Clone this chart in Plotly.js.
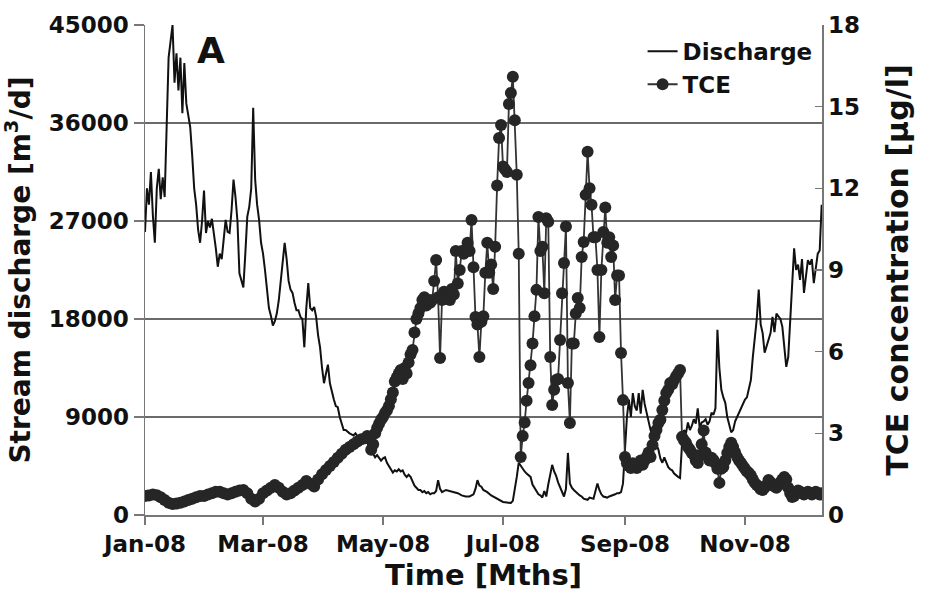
<!DOCTYPE html>
<html>
<head>
<meta charset="utf-8">
<script src="https://cdn.plot.ly/plotly-3.0.1.min.js"></script>
<style>html,body{margin:0;padding:0;background:#fff;}#chart{width:930px;height:603px;}</style>
</head>
<body>
<div id="chart"></div>
<script>
// Day offsets from 2008-01-01 and stream discharge [m3/d]
const disDay = [0,1,2,3,4,5,6,7,8,9,10,11,12,13,14,15,16,17,18,19,20,21,22,23,24,25,26,27,28,29,30,31,32,33,34,35,36,37,38,39,40,41,42,43,44,45,46,47,48,49,50,51,52,53,54,55,56,57,58,59,60,61,62,63,64,65,66,67,68,69,70,71,72,73,74,75,76,77,78,79,80,81,82,83,84,85,86,87,88,89,90,91,92,93,94,95,96,97,98,99,100,101,102,103,104,105,106,107,108,109,110,111,112,113,114,115,116,117,118,119,120,121,122,123,124,125,126,127,128,129,130,131,132,133,134,135,136,137,138,139,140,141,142,143,144,145,146,147,148,149,150,151,153,155,157,159,161,163,165,167,168,169,170,171,172,174,176,177,179,180,182,184,186,187,188,189,190,191,192,193,194,195,196,197,198,199,200,201,202,203,204,205,206,207,208,209,210,211,212,213,214,215,216,217,218,219,220,221,222,223,224,225,226,227,228,229,230,231,232,233,234,235,236,237,238,239,240,241,242,243,244,245,246,247,248,249,250,251,252,253,254,255,256,257,258,259,260,261,262,263,264,265,266,267,268,269,270,271,272,273,274,275,276,277,278,279,280,281,282,283,284,285,286,287,288,289,290,291,292,293,294,295,296,297,298,299,300,301,302,303,304,305,306,307,308,309,310,311,312,313,314,315,316,317,318,319,320,321,322,323,324,325,326,327,328,329,330,331,332,333,334,335,336,337,338,339,340,341,342,343,344];
const disVal = [26000,30000,28500,31500,27500,25000,30000,31800,29000,31000,29200,36000,42000,43500,45000,39700,42400,39000,42000,36900,41500,37800,36500,35600,33000,30000,28500,26200,25000,27000,29800,25900,27000,26400,27200,25900,24500,22800,24000,23500,25500,27100,26000,25900,28000,30800,29200,27000,22200,21500,20900,24000,27400,28300,30000,37400,30800,28500,27100,25000,24000,22500,20500,19000,18300,17400,17800,18500,19700,21500,23700,25000,23500,21500,20700,20400,19500,18800,18800,18200,18000,15400,19000,21300,19000,18800,19100,18200,16500,15400,13500,12100,13000,13800,12100,11200,10600,10000,9900,9000,8300,7800,7800,7600,7500,7400,7300,7500,7200,7000,6900,7100,6900,6700,6200,6000,5600,5300,5500,5300,5000,5200,5300,4800,4500,4300,3900,4100,4000,4200,4000,4100,3700,3500,3700,3500,3000,2700,2500,2300,2300,2100,2200,2000,2100,1900,2000,2000,2200,3200,2400,2100,2300,2200,2100,2000,1800,1700,1700,1900,2400,3200,2700,2600,2300,2100,1800,1700,1500,1400,1200,1150,1100,1300,2300,3500,4800,4500,4300,4000,3800,3600,3500,2800,2500,2300,1900,1800,1600,2200,1700,2800,3800,4600,4000,3600,3000,2500,2000,1700,2400,5700,2900,2500,2300,2100,2000,1800,1700,1500,1450,1400,1600,1550,1500,2200,2900,2300,1900,1700,1650,1600,1700,1750,1800,1900,2000,2000,2100,2900,6000,9000,10600,9000,11200,10000,9600,11200,9300,11500,10200,9400,8500,7800,7300,6900,6400,6000,5200,4800,5300,4900,4400,4200,4100,3800,3600,3500,3400,6500,7800,7500,8500,7800,8200,8800,8400,9800,8000,8500,8600,8800,8300,8600,9400,9200,9800,17000,13500,11500,10800,10300,9000,8200,7600,7800,8600,9000,9400,9800,10300,10600,10800,11500,12400,14500,16000,18000,20700,17500,16700,14900,15500,16000,16700,18200,16800,18500,18300,18000,17300,15500,13600,14500,18000,21300,24500,22500,23000,21600,23500,20400,22000,23400,23000,23500,21300,22500,24000,24300,28500];

// Day offsets from 2008-01-01 and TCE concentration [ug/l]
const tceDay = [0,2,4,6,8,10,12,14,16,18,20,22,24,26,28,30,32,34,36,38,40,42,44,46,48,50,52,54,56,58,60,62,64,66,68,70,72,74,76,78,80,82,84,86,88,90,92,94,96,98,100,102,104,106,108,110,112,113,114,115,116,117,118,119,120,121,122,123,124,125,126,127,128,129,130,131,132,133,134,135,136,137,138,139,140,141,142,143,144,145,146,147,148,149,150,151,152,153,154,155,156,157,158,159,160,161,162,163,164,165,166,167,168,169,170,171,172,173,174,175,176,177,178,179,180,181,182,183,184,185,186,187,188,189,190,191,192,193,194,195,196,197,198,199,200,201,202,203,204,205,206,207,208,209,210,211,212,213,214,215,216,217,218,219,220,221,222,223,224,225,226,227,228,229,230,231,232,233,234,235,236,237,238,239,240,241,242,243,244,245,246,247,248,249,250,251,252,253,254,255,256,257,258,259,260,261,262,263,264,265,266,267,268,269,270,271,272,273,274,275,276,277,278,279,280,281,282,283,284,285,286,287,288,289,290,291,292,293,294,295,296,297,298,299,300,301,302,303,304,305,306,307,308,309,310,311,312,313,314,315,316,317,318,319,320,321,322,323,324,325,326,327,328,329,330,331,332,333,334,335,336,337,338,339,340,341,342,343,344];
const tceVal = [0.7,0.72,0.75,0.73,0.65,0.55,0.45,0.4,0.42,0.45,0.5,0.55,0.6,0.65,0.7,0.7,0.75,0.8,0.85,0.85,0.8,0.75,0.8,0.85,0.9,0.92,0.8,0.6,0.5,0.6,0.8,0.9,1.0,1.1,1.0,0.85,0.75,0.8,0.9,1.0,1.1,1.25,1.15,1.05,1.3,1.5,1.65,1.8,1.95,2.1,2.25,2.4,2.5,2.6,2.7,2.78,2.82,2.9,2.85,2.4,2.6,3.0,3.2,3.35,3.5,3.6,3.75,3.85,4.0,4.25,4.5,4.9,5.05,5.2,5.33,5.0,5.4,5.2,5.6,5.9,6.06,6.7,7.2,7.4,7.6,7.9,8.0,7.7,7.9,7.8,7.9,8.6,9.37,8.0,5.77,7.9,8.2,8.0,8.15,7.9,8.3,8.1,9.7,8.5,9.0,9.7,9.6,9.7,10.0,9.7,10.84,9.1,7.27,7.0,5.8,7.1,7.3,8.9,10.0,8.9,9.2,8.3,9.85,12.1,13.85,14.33,12.8,12.7,12.6,15.1,15.5,16.1,14.5,12.5,9.6,2.13,2.9,3.4,4.2,4.85,5.5,6.3,7.3,8.27,10.95,9.7,9.85,8.15,10.9,10.77,5.8,4.04,4.6,4.96,5.0,6.43,8.15,9.26,10.6,4.85,3.38,6.3,6.3,7.4,7.97,7.6,9.48,10.03,11.76,13.34,12.0,11.4,10.2,10.2,9.0,6.54,9.0,10.4,11.3,10.0,10.2,9.48,9.9,7.9,8.8,8.8,5.95,4.22,2.13,1.9,1.8,1.73,1.9,1.8,1.73,1.9,2.0,1.85,2.0,2.13,2.3,2.13,2.57,2.9,3.12,3.38,3.5,3.86,4.2,4.48,4.6,4.85,4.8,4.96,5.1,5.2,5.33,2.87,2.75,2.65,2.5,2.4,2.28,2.2,2.0,1.91,2.2,2.6,3.1,2.3,2.15,2.0,2.1,2.02,1.9,1.7,1.18,1.7,1.76,2.0,2.28,2.5,2.65,2.5,2.3,2.13,2.0,1.91,1.8,1.7,1.6,1.54,1.45,1.3,1.18,1.1,1.05,0.95,0.92,1.0,1.1,1.29,1.2,1.1,1.05,1.0,1.1,1.2,1.3,1.4,1.3,1.0,0.8,0.66,0.7,0.8,0.9,0.85,0.8,0.75,0.8,0.85,0.8,0.75,0.8,0.85,0.8,0.75,0.8];

const tickDates = ['2008-01-01','2008-03-01','2008-05-01','2008-07-01','2008-09-01','2008-11-01'];
const tickLabels = ['Jan-08','Mar-08','May-08','Jul-08','Sep-08','Nov-08'];
const leftTicks = [0,9000,18000,27000,36000,45000];
const rightTicks = [0,3,6,9,12,15,18];

function toDate(d){
  const t = new Date(Date.UTC(2008,0,1) + d*86400000);
  return t.toISOString().slice(0,10);
}

const F = 'DejaVu Sans';
const traces = [
  {x: disDay.map(toDate), y: disVal, type:'scatter', mode:'lines', name:'Discharge',
   line:{color:'#111', width:2}, yaxis:'y'},
  {x: tceDay.map(toDate), y: tceVal, type:'scatter', mode:'lines+markers', name:'TCE',
   line:{color:'#333', width:1.8}, marker:{color:'#262626', size:12}, yaxis:'y2'}
];

const layout = {
  width:930, height:603,
  margin:{l:145, r:108, t:25, b:88},
  paper_bgcolor:'#fff', plot_bgcolor:'#fff',
  showlegend:true,
  legend:{x:0.735, y:0.99, xanchor:'left', yanchor:'top', bgcolor:'rgba(0,0,0,0)',
          font:{family:F, size:23, weight:'bold', color:'#111'}, tracegroupgap:0},
  xaxis:{type:'date', range:['2008-01-01','2008-12-10 04:00'],
         tickvals:tickDates, ticktext:tickLabels, ticks:'outside', ticklen:8, tickwidth:1.5, tickcolor:'#777',
         showline:true, linecolor:'#777', linewidth:1.5, showgrid:false, zeroline:false,
         tickfont:{family:F, size:23, weight:'bold', color:'#111'},
         title:{text:'Time [Mths]', font:{family:F, size:29, weight:'bold', color:'#111'}, standoff:8}},
  yaxis:{range:[0,45000], tickvals:leftTicks, ticktext:leftTicks.map(String), ticks:'outside', ticklen:10, tickwidth:1.5, tickcolor:'#777',
         showline:true, linecolor:'#777', linewidth:1.5, showgrid:true, gridcolor:'#6a6a6a', gridwidth:1.8, zeroline:false,
         tickfont:{family:F, size:23, weight:'bold', color:'#111'},
         title:{text:'Stream discharge [m<sup>3</sup>/d]', font:{family:F, size:28, weight:'bold', color:'#111'}, standoff:10}},
  yaxis2:{range:[0,18], tickvals:rightTicks, overlaying:'y', side:'right', ticks:'inside', ticklen:7, tickwidth:1.5, tickcolor:'#777',
          showline:true, linecolor:'#777', linewidth:1.5, showgrid:false, zeroline:false,
          tickfont:{family:F, size:23, weight:'bold', color:'#111'},
          title:{text:'TCE concentration [µg/l]', font:{family:F, size:30, weight:'bold', color:'#111'}, standoff:28}},
  annotations:[{xref:'paper', yref:'paper', x:0.0975, y:0.947, xanchor:'center', yanchor:'middle', text:'A', showarrow:false,
                font:{family:F, size:36, weight:'bold', color:'#111'}}]
};

Plotly.newPlot('chart', traces, layout, {displayModeBar:false, staticPlot:true});
</script>
</body>
</html>
